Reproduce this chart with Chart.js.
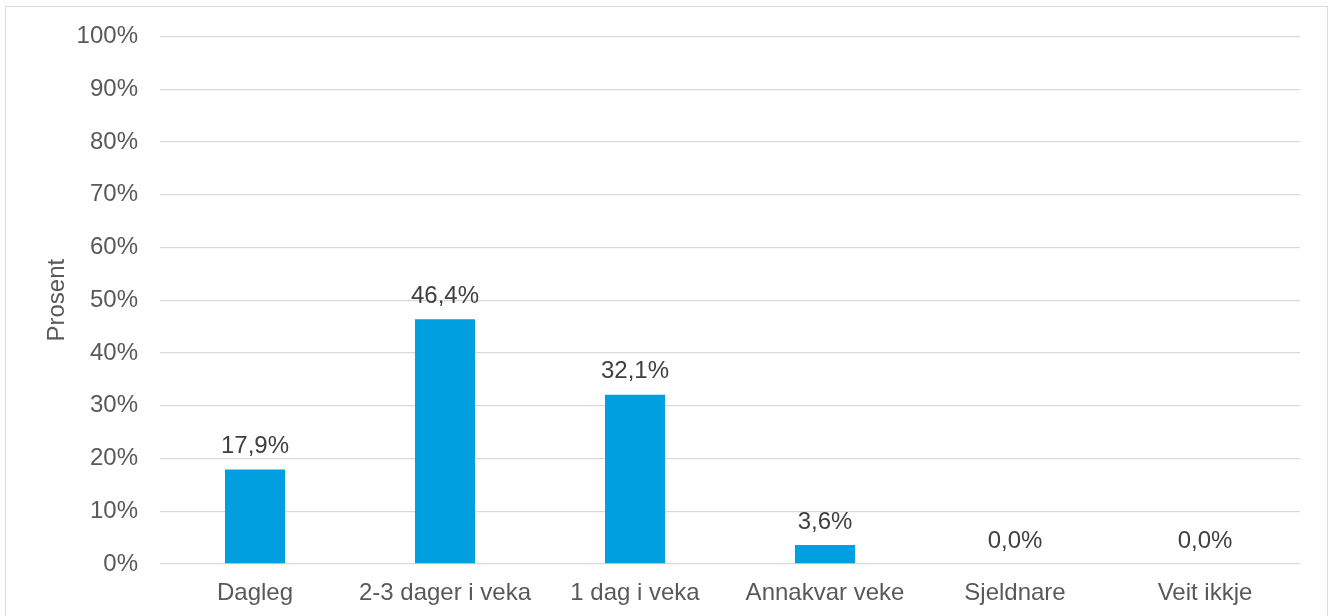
<!DOCTYPE html>
<html>
<head>
<meta charset="utf-8">
<script src="https://cdn.jsdelivr.net/npm/chart.js@4"></script>
<style>
html,body{margin:0;padding:0;background:#fff;}
#wrap{position:absolute;left:0;top:0;width:1335px;height:616px;}
#frame{position:absolute;left:5px;top:6px;width:1323px;height:640px;border:1px solid #d9d9d9;box-sizing:border-box;pointer-events:none;}
</style>
</head>
<body>
<div id="frame"></div>
<div id="wrap"><canvas id="c" width="1335" height="616"></canvas></div>
<script>
const categories = ["Dagleg", "2-3 dager i veka", "1 dag i veka", "Annakvar veke", "Sjeldnare", "Veit ikkje"];
const values = [17.9, 46.4, 32.1, 3.6, 0.0, 0.0];
const yTicks = [0, 10, 20, 30, 40, 50, 60, 70, 80, 90, 100];
const axisTitle = "Prosent";

const FONT = '"Liberation Sans", Arial, sans-serif';
const fmt = v => v.toFixed(1).replace('.', ',') + '%';

const labelPlugin = {
  id: 'valueLabels',
  afterDatasetsDraw(chart) {
    const ctx = chart.ctx;
    const meta = chart.getDatasetMeta(0);
    ctx.save();
    ctx.font = '24px ' + FONT;
    ctx.fillStyle = '#404040';
    ctx.textAlign = 'center';
    ctx.textBaseline = 'bottom';
    meta.data.forEach((bar, i) => {
      ctx.fillText(fmt(values[i]), bar.x, bar.y - 11);
    });
    ctx.restore();
  }
};

new Chart(document.getElementById('c'), {
  type: 'bar',
  data: {
    labels: categories,
    datasets: [{
      data: values,
      backgroundColor: '#009FDF',
      categoryPercentage: 1,
      barPercentage: 0.316
    }]
  },
  options: {
    responsive: false,
    animation: false,
    devicePixelRatio: 1,
    layout: { padding: { left: 0, right: 35, top: 36, bottom: 0 } },
    plugins: { legend: { display: false }, tooltip: { enabled: false } },
    scales: {
      x: {
        grid: { display: false, drawTicks: false },
        border: { display: false },
        ticks: { color: '#595959', font: { family: FONT, size: 24 }, padding: 15, maxRotation: 0 },
        afterFit(s) { s.height = 52; }
      },
      y: {
        min: 0, max: 100,
        afterBuildTicks(s) { s.ticks = yTicks.map(v => ({ value: v })); },
        grid: { color: '#d9d9d9', lineWidth: 1.3, drawTicks: false },
        border: { display: false },
        ticks: { color: '#595959', font: { family: FONT, size: 24 }, padding: 22, callback: v => v + '%' },
        title: { display: true, text: axisTitle, color: '#595959', font: { family: FONT, size: 24 }, padding: { top: 43, bottom: 0 } },
        afterFit(s) { s.width = 160; }
      }
    }
  },
  plugins: [labelPlugin]
});
</script>
</body>
</html>
